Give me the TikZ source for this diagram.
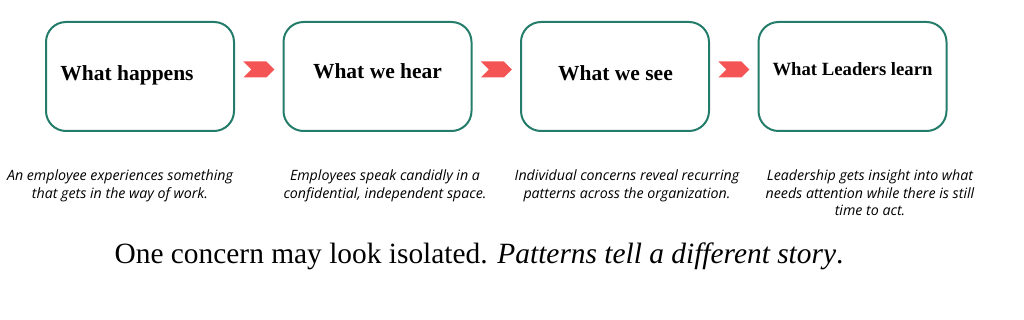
\documentclass[tikz,border=0pt]{standalone}
\usepackage{fontspec}
\setmainfont{Liberation Serif}
\newfontfamily\descfont{Open Sans}
\usepackage{xcolor}
\usetikzlibrary{positioning,calc,shapes.symbols}
\definecolor{boxgreen}{RGB}{36,124,106}
\definecolor{chevred}{RGB}{245,84,84}

\begin{document}
\begin{tikzpicture}[
    x=1pt, y=-1pt,
    box/.style={draw=boxgreen, line width=2pt, rounded corners=20pt,
                minimum width=188pt, minimum height=109pt, inner sep=0pt},
    title/.style={font=\fontsize{21.5}{25}\selectfont\bfseries, inner sep=0pt, anchor=base},
    chev/.style={signal, signal from=west, signal to=east, fill=chevred,
                 minimum width=31pt, minimum height=16pt, inner sep=0pt},
    desc/.style={font=\descfont\itshape\fontsize{14.2}{17.2}\selectfont, align=center,
                 inner sep=0pt, anchor=north},
    ]
\useasboundingbox (0,0) rectangle (1024,320);

% the four stages
\node[box] (happens) at (140,76.5) {};
\node[box, right=47.5pt of happens] (hear) {};
\node[box, right=47.5pt of hear] (see) {};
\node[box, right=47.5pt of see] (leaders) {};

\node[title] (happensT) at ([shift={(-13,4.2)}]happens.center) {What happens};
\node[title] (hearT) at ([shift={(0,1.8)}]hear.center) {What we hear};
\node[title] (seeT) at ([shift={(0.5,4.2)}]see.center) {What we see};
\node[title, font=\fontsize{18.7}{22}\selectfont\bfseries] (leadersT)
     at ([shift={(0,-0.8)}]leaders.center) {What Leaders learn};

% chevrons between stages
\node[chev] (c1) at ($(happens.east)!0.5!(hear.west)+(0,-7)$) {};
\node[chev] (c2) at ($(hear.east)!0.5!(see.west)+(0,-7)$) {};
\node[chev] (c3) at ($(see.east)!0.5!(leaders.west)+(0,-7)$) {};

% descriptions
\node[desc] (happensD) at ([shift={(-20,38)}]happens.south)
     {An employee experiences something\\that gets in the way of work.};
\node[desc] (hearD) at ([shift={(7.5,38)}]hear.south)
     {Employees speak candidly in a\\confidential, independent space.};
\node[desc] (seeD) at ([shift={(12,38)}]see.south)
     {Individual concerns reveal recurring\\patterns across the organization.};
\node[desc] (leadersD) at ([shift={(17.5,38)}]leaders.south)
     {Leadership gets insight into what\\needs attention while there is still\\time to act.};

\node[font=\fontsize{29.4}{33}\selectfont, inner sep=0pt, anchor=base] (moral) at (479,263)
     {One concern may look isolated. \textit{Patterns tell a different story}.};
\end{tikzpicture}
\end{document}
